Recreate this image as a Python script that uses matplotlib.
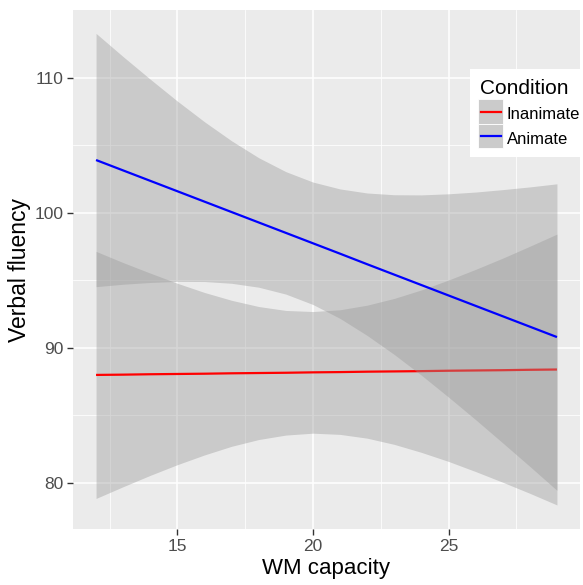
import matplotlib
matplotlib.use("Agg")
import matplotlib.pyplot as plt
from matplotlib.patches import Rectangle
from matplotlib.lines import Line2D

plt.rcParams['font.family'] = ['Liberation Sans', 'DejaVu Sans']

# WM capacity grid for the fitted lines and confidence bands
wm = [12, 13, 14, 15, 16, 17, 18, 19, 20, 21, 22, 23, 24, 25, 26, 27, 28, 29]

# Inanimate condition: fitted line and 95% band
inanimate_fit = [88.00, 88.02, 88.05, 88.07, 88.09, 88.12, 88.14, 88.16, 88.19,
                 88.21, 88.24, 88.26, 88.28, 88.31, 88.33, 88.35, 88.38, 88.40]
inanimate_hi = [97.14, 96.31, 95.53, 94.78, 94.10, 93.52, 93.06, 92.77, 92.69,
                92.82, 93.16, 93.66, 94.29, 95.02, 95.81, 96.64, 97.52, 98.42]
inanimate_lo = [78.86, 79.73, 80.57, 81.36, 82.08, 82.72, 83.22, 83.55, 83.69,
                83.60, 83.32, 82.86, 82.27, 81.60, 80.85, 80.06, 79.24, 78.38]

# Animate condition: fitted line and 95% band
animate_fit = [103.90, 103.13, 102.36, 101.59, 100.82, 100.05, 99.28, 98.51, 97.74,
               96.97, 96.19, 95.42, 94.65, 93.88, 93.11, 92.34, 91.57, 90.80]
animate_hi = [113.27, 111.55, 109.88, 108.26, 106.73, 105.32, 104.07, 103.04, 102.27,
              101.76, 101.46, 101.33, 101.32, 101.40, 101.53, 101.71, 101.91, 102.14]
animate_lo = [94.53, 94.71, 94.84, 94.92, 94.91, 94.78, 94.49, 93.98, 93.21,
              92.18, 90.92, 89.51, 87.98, 86.36, 84.69, 82.97, 81.23, 79.46]

conditions = ["Inanimate", "Animate"]
colors = ["#FF0000", "#0000FF"]

x_ticks = [15, 20, 25]
x_minor = [12.5, 17.5, 22.5, 27.5]
y_ticks = [80, 90, 100, 110]
y_minor = [85, 95, 105]

W, H = 583, 585
fig = plt.figure(figsize=(W / 100, H / 100), dpi=100)
ax = fig.add_axes([73 / W, 1 - 529 / H, 507 / W, 519 / H])
ax.set_facecolor("#EBEBEB")
for s in ax.spines.values():
    s.set_visible(False)

# grid
for v in x_minor:
    ax.axvline(v, color="white", lw=0.55, zorder=0.5)
for v in y_minor:
    ax.axhline(v, color="white", lw=0.55, zorder=0.5)
for v in x_ticks:
    ax.axvline(v, color="white", lw=1.1, zorder=0.6)
for v in y_ticks:
    ax.axhline(v, color="white", lw=1.1, zorder=0.6)

series = [(inanimate_fit, inanimate_lo, inanimate_hi), (animate_fit, animate_lo, animate_hi)]
z = 1
for (fit, lo, hi), col in zip(series, colors):
    ax.fill_between(wm, lo, hi, color="#999999", alpha=0.4, lw=0, zorder=z)
    ax.plot(wm, fit, color=col, lw=1.6, zorder=z + 0.5, solid_capstyle="butt")
    z += 1

ax.set_xlim(11.15, 29.85)
ax.set_ylim(76.6, 115.0)
ax.set_xticks(x_ticks)
ax.set_yticks(y_ticks)
ax.tick_params(axis="both", colors="#333333", length=4, width=1,
               labelsize=12.5, labelcolor="#4D4D4D", pad=3)

ax.set_xlabel("WM capacity", fontsize=16, labelpad=3)
ax.set_ylabel("Verbal fluency", fontsize=16.5, labelpad=2)


# legend, laid out in figure pixel units
def fx(px):
    return px / W


def fy(py):
    return 1 - py / H


fig.add_artist(Rectangle((fx(470), fy(157)), fx(581) - fx(470), fy(69) - fy(157),
                         transform=fig.transFigure, facecolor="white",
                         edgecolor="none", zorder=5))
fig.text(fx(480), fy(94), "Condition", fontsize=15, color="black",
         ha="left", va="baseline", zorder=6)
key_top = 99.3
key_h = 24.5
for i, (name, col) in enumerate(zip(conditions, colors)):
    top = key_top + i * key_h
    fig.add_artist(Rectangle((fx(478.3), fy(top + key_h)), fx(502.7) - fx(478.3),
                             fy(top) - fy(top + key_h), transform=fig.transFigure,
                             facecolor="#CBCBCB", edgecolor="white", lw=0.6, zorder=6))
    cy = fy(top + key_h / 2)
    fig.add_artist(Line2D([fx(480.5), fx(500.7)], [cy, cy], transform=fig.transFigure,
                          color=col, lw=1.6, zorder=7))
    fig.text(fx(506.7), fy(top + 20), name, fontsize=12, color="black",
             ha="left", va="baseline", zorder=7)

fig.savefig("out.png", dpi=100, facecolor="white")
